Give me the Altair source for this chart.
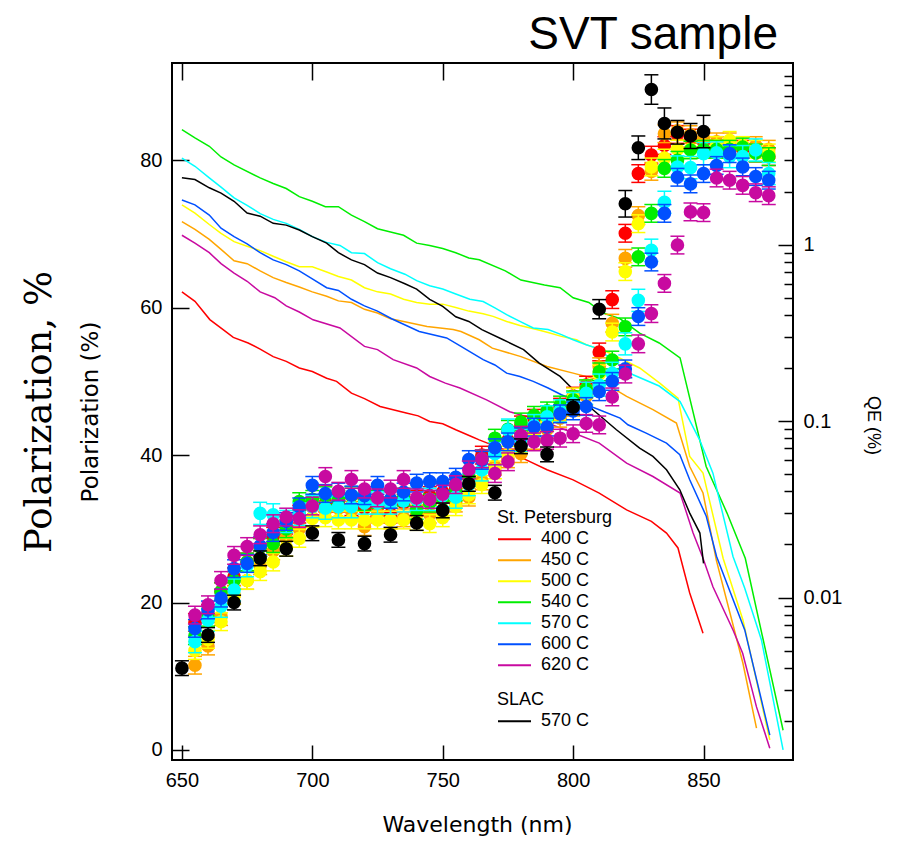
import altair as alt
import pandas as pd

# ---------------- data ----------------
SERIES = ["400 C", "450 C", "500 C", "540 C", "570 C", "600 C", "620 C"]
COLORS = ["#ff0000", "#ffa500", "#ffff00", "#00ee00", "#00ffff", "#0050ff", "#c80aa0"]
SLAC_NAME = "570 C"
SLAC_COLOR = "#000000"

# Polarization (%) measured every 5 nm (St. Petersburg samples)
WL_SPB = [655, 660, 665, 670, 675, 680, 685, 690, 695, 700, 705, 710, 715, 720, 725,
          730, 735, 740, 745, 750, 755, 760, 765, 770, 775, 780, 785, 790, 795, 800,
          805, 810, 815, 820, 825, 830, 835, 840, 845, 850, 855, 860, 865, 870, 875]

POL_400 = [17.3, 18.5, 21.5, 23.5, 25.5, 27.5, 29.0, 30.5, 32.0, 33.0, 33.5, 33.5, 33.0, 32.8, 33.0,
           32.0, 33.5, 34.0, 34.5, 35.0, 35.5, 37.0, 40.0, 41.0, 42.0, 44.1, 45.0, 45.5, 46.5, 48.0,
           49.5, 54.0, 61.1, 70.1, 78.2, 80.7, 82.0, 83.5, 83.0, 82.5, 82.0, 81.5, 81.5, 81.0, 80.5]
POL_450 = [11.5, 14.1, 18.1, 21.0, 23.0, 25.0, 27.0, 28.7, 30.0, 31.5, 32.5, 32.8, 32.5, 30.3, 32.0,
           31.2, 31.5, 32.0, 32.0, 32.5, 33.5, 34.3, 36.5, 38.5, 39.5, 40.2, 42.0, 43.5, 45.0, 46.5,
           48.0, 52.0, 57.9, 66.7, 72.5, 78.5, 83.6, 84.0, 83.5, 83.0, 82.5, 82.5, 82.0, 82.0, 81.5]
POL_500 = [13.5, 15.0, 17.4, 21.0, 23.0, 24.2, 25.5, 27.5, 28.7, 31.4, 31.5, 31.2, 31.2, 31.2, 31.2,
           31.2, 31.2, 31.0, 30.7, 31.5, 33.0, 34.6, 36.0, 38.0, 40.0, 41.5, 43.0, 44.5, 46.0, 47.9,
           49.0, 51.0, 56.7, 64.9, 71.4, 79.1, 80.3, 81.5, 81.5, 81.5, 82.0, 82.7, 82.0, 81.5, 81.0]
POL_540 = [15.5, 18.0, 21.5, 23.0, 25.5, 27.5, 28.0, 30.0, 33.7, 34.0, 34.5, 34.0, 34.5, 33.7, 34.0,
           34.0, 34.3, 32.5, 33.5, 34.0, 35.0, 37.0, 39.5, 42.3, 43.5, 44.5, 45.4, 46.0, 46.8, 47.5,
           49.0, 51.3, 52.9, 57.4, 66.9, 72.8, 78.9, 80.0, 81.4, 81.5, 81.5, 81.5, 81.8, 81.0, 80.5]
POL_570 = [14.7, 17.6, 19.5, 21.7, 25.0, 32.1, 31.9, 31.0, 32.0, 33.0, 32.8, 33.0, 33.0, 33.5, 33.5,
           33.5, 33.8, 34.0, 34.0, 34.5, 34.3, 36.0, 38.0, 40.2, 43.4, 42.0, 44.0, 45.2, 46.0, 47.0,
           48.4, 49.5, 51.1, 55.1, 61.0, 67.8, 74.3, 79.1, 79.0, 80.9, 81.0, 80.5, 80.5, 81.4, 78.2]
POL_600 = [16.5, 19.0, 20.6, 24.6, 25.3, 27.7, 29.5, 31.0, 33.0, 35.9, 34.8, 35.0, 34.6, 34.5, 35.9,
           34.0, 35.0, 36.2, 36.4, 36.4, 37.0, 39.4, 39.3, 41.0, 41.8, 42.5, 43.8, 43.8, 45.6, 46.0,
           46.6, 48.6, 50.0, 51.7, 58.8, 66.2, 72.8, 77.7, 76.8, 78.2, 79.3, 80.9, 79.1, 77.8, 77.3]
POL_620 = [18.3, 19.7, 23.0, 26.4, 27.6, 29.2, 30.7, 31.6, 31.4, 33.1, 37.1, 35.1, 36.7, 35.4, 34.2,
           35.4, 36.7, 34.2, 34.0, 34.7, 36.0, 38.0, 39.5, 37.5, 39.1, 42.7, 41.8, 42.0, 42.3, 42.9,
           44.3, 44.1, 47.9, 51.0, 55.1, 59.2, 63.3, 68.5, 73.0, 72.9, 77.6, 77.3, 76.6, 75.6, 75.2]
POL_ERR = [1.2, 1.2, 1.2, 1.2, 1.5, 1.2, 1.2]   # per St. Petersburg series

# SLAC sample polarization
WL_SLAC = [650, 660, 670, 680, 690, 700, 710, 720, 730, 740, 750, 760, 770, 780, 790, 800,
           810, 820, 825, 830, 835, 840, 845, 850]
POL_SLAC = [11.1, 15.6, 20.0, 26.0, 27.3, 29.4, 28.5, 28.0, 29.2, 30.8, 32.5, 36.1, 34.9, 41.2,
            40.1, 46.5, 59.8, 74.1, 81.7, 89.6, 85.0, 83.8, 83.3, 83.9]
ERR_SLAC = [1.0, 1.0, 1.0, 1.0, 1.0, 1.0, 1.0, 1.0, 1.0, 1.0, 1.0, 1.0, 1.0, 1.0,
            1.0, 1.0, 1.3, 1.8, 1.6, 2.0, 2.1, 1.6, 1.7, 2.2]

# QE (%) curves, right log axis
QE_400_WL = [650, 655, 660.7, 665.8, 669.7, 675.4, 680, 685, 690, 695, 700, 705.5, 709.3, 715, 720,
             726, 736, 740.6, 745, 750, 755, 761, 764, 772, 782, 790, 800, 810, 820.5, 830, 835.8,
             840.2, 844.7, 849.8]
QE_400 = [0.54, 0.477, 0.376, 0.33, 0.298, 0.277, 0.256, 0.232, 0.218, 0.20, 0.191, 0.175, 0.168,
          0.144, 0.134, 0.121, 0.111, 0.107, 0.0995, 0.0966, 0.0893, 0.0818, 0.0783, 0.0703,
          0.0603, 0.053, 0.0464, 0.0391, 0.0314, 0.027, 0.0232, 0.0191, 0.0106, 0.00627]
QE_450_WL = [650, 655, 660.5, 665, 670, 675, 680, 685, 690, 695, 700, 705.5, 710, 715, 720, 725,
             730, 735, 744, 754, 757, 764, 769, 780, 790, 800, 810, 820.5, 830.6, 839.6, 844.7,
             849.8, 854.9, 865.1, 870.3]
QE_450 = [1.35, 1.22, 1.07, 0.94, 0.81, 0.78, 0.71, 0.65, 0.61, 0.575, 0.54, 0.51, 0.48, 0.47,
          0.43, 0.41, 0.38, 0.367, 0.344, 0.33, 0.322, 0.289, 0.259, 0.232, 0.204, 0.187, 0.171,
          0.138, 0.116, 0.0975, 0.0553, 0.0391, 0.0163, 0.00424, 0.00182]
QE_500_WL = [650, 655, 660.5, 665, 670, 675, 680, 685, 690, 695, 700, 705.5, 710, 715, 720, 725,
             730, 735, 740, 745, 750, 755, 760, 765.5, 769.3, 774.5, 779.6, 786, 790.4, 795.5,
             801.3, 805, 812.7, 825.5, 833.2, 840.2, 844.7, 849.8, 857.5, 865.1, 875.4]
QE_500 = [1.68, 1.51, 1.30, 1.16, 1.04, 0.98, 0.925, 0.86, 0.80, 0.75, 0.75, 0.70, 0.66, 0.63,
          0.57, 0.54, 0.525, 0.49, 0.47, 0.46, 0.46, 0.44, 0.42, 0.406, 0.392, 0.367, 0.348,
          0.330, 0.318, 0.302, 0.289, 0.271, 0.248, 0.200, 0.164, 0.135, 0.063, 0.0507, 0.0167,
          0.00746, 0.00156]
QE_540_WL = [650, 655, 660.5, 665, 670, 680, 685, 690, 695, 700, 705, 710, 715, 720, 725, 730,
             735, 740, 745, 750, 755, 760, 764, 774, 780, 789, 795, 800, 806, 811.5, 818, 825.5,
             833, 841, 851, 859, 866, 880.5]
QE_540 = [4.49, 4.03, 3.61, 3.14, 2.83, 2.39, 2.22, 2.08, 1.87, 1.76, 1.64, 1.64, 1.47, 1.35,
          1.23, 1.18, 1.13, 1.02, 0.99, 0.95, 0.90, 0.84, 0.82, 0.71, 0.63, 0.59, 0.57, 0.50,
          0.47, 0.41, 0.38, 0.315, 0.277, 0.228, 0.0553, 0.0301, 0.0167, 0.00177]
QE_570_WL = [650, 655, 660.5, 665, 670, 675, 680, 685, 690, 695, 700, 705.5, 710.6, 715, 720, 725,
             730, 735.5, 740, 745, 750, 755, 760.4, 765.5, 770, 774.5, 779.6, 784.7, 790.4, 795.5,
             800, 805, 809, 813.4, 823, 833, 841, 848.5, 853.6, 861.3, 865.8, 872.2, 880.5]
QE_570 = [3.09, 2.78, 2.39, 2.12, 1.84, 1.67, 1.50, 1.39, 1.32, 1.22, 1.11, 1.03, 0.99, 0.90,
          0.89, 0.79, 0.73, 0.68, 0.625, 0.585, 0.56, 0.525, 0.49, 0.476, 0.438, 0.401, 0.367,
          0.337, 0.330, 0.309, 0.289, 0.271, 0.259, 0.232, 0.183, 0.158, 0.129, 0.0783, 0.0507,
          0.0171, 0.0113, 0.00575, 0.00137]
QE_600_WL = [650, 655, 660.5, 665, 670, 675, 680, 685, 690, 695, 700, 705.5, 710, 715, 720, 725,
             730.4, 741, 751.5, 757, 765.5, 770, 774.5, 779.6, 784.7, 790.4, 795.5, 800, 805, 810,
             818, 821, 828, 835.8, 840.9, 844.7, 851, 855, 865.8, 875.4]
QE_600 = [1.79, 1.68, 1.47, 1.24, 1.11, 1.01, 0.90, 0.82, 0.77, 0.71, 0.64, 0.57, 0.55, 0.49,
          0.45, 0.42, 0.38, 0.322, 0.296, 0.265, 0.223, 0.208, 0.187, 0.179, 0.168, 0.154, 0.141,
          0.132, 0.124, 0.116, 0.104, 0.0953, 0.0855, 0.075, 0.0644, 0.0465, 0.0290, 0.0171,
          0.00655, 0.00166]
QE_620_WL = [650, 655, 660.5, 665, 670, 675, 680, 685.6, 690, 695, 700.3, 710.6, 720, 725, 731,
             740, 745, 751, 756.6, 766.8, 775.7, 788.5, 798.7, 810, 820.5, 830.6, 841, 846, 849.8,
             853.6, 861.3, 865, 870.3, 875.4]
QE_620 = [1.13, 1.02, 0.90, 0.78, 0.69, 0.62, 0.54, 0.50, 0.45, 0.415, 0.375, 0.337, 0.265,
          0.254, 0.223, 0.20, 0.179, 0.164, 0.154, 0.132, 0.113, 0.0995, 0.0873, 0.075, 0.0578,
          0.0485, 0.0391, 0.0232, 0.0167, 0.0115, 0.00655, 0.00483, 0.0024, 0.0014]
QE_SLAC_WL = [650, 655, 660.5, 665, 670, 675, 680, 685, 690, 695, 700, 705.5, 710, 715, 720, 725,
              730, 735.5, 740, 745, 750, 755, 760, 765, 773, 781, 787, 795, 800, 807.6, 816.6,
              825.5, 830.6, 835.8, 840.9, 844.7, 848.6, 850]
QE_SLAC = [2.39, 2.34, 2.10, 1.96, 1.76, 1.51, 1.45, 1.32, 1.29, 1.21, 1.11, 1.02, 0.90, 0.82,
           0.77, 0.69, 0.65, 0.60, 0.56, 0.49, 0.447, 0.39, 0.367, 0.33, 0.29, 0.254, 0.213,
           0.179, 0.151, 0.116, 0.0893, 0.0703, 0.0631, 0.0530, 0.0408, 0.0301, 0.0232, 0.0156]

POL = [POL_400, POL_450, POL_500, POL_540, POL_570, POL_600, POL_620]
QE_WL = [QE_400_WL, QE_450_WL, QE_500_WL, QE_540_WL, QE_570_WL, QE_600_WL, QE_620_WL]
QE_VALS = [QE_400, QE_450, QE_500, QE_540, QE_570, QE_600, QE_620]

# ---------------- tables ----------------
qe_rows = []
for name, wls, vals in zip(SERIES, QE_WL, QE_VALS):
    for w, q in zip(wls, vals):
        qe_rows.append({"series": name, "wl": w, "qe": q})
qe_df = pd.DataFrame(qe_rows)
slac_qe_df = pd.DataFrame({"series": SLAC_NAME, "wl": QE_SLAC_WL, "qe": QE_SLAC})


def pol_frame(wls, vals, errs):
    return pd.DataFrame({"wl": wls, "p": vals,
                         "lo": [v - e for v, e in zip(vals, errs)],
                         "hi": [v + e for v, e in zip(vals, errs)]})


point_sets = []
for name, col, vals, e in zip(SERIES, COLORS, POL, POL_ERR):
    point_sets.append((col, pol_frame(WL_SPB, vals, [e] * len(vals))))
point_sets.append((SLAC_COLOR, pol_frame(WL_SLAC, POL_SLAC, ERR_SLAC)))

# ---------------- scales / axes ----------------
X_SCALE = alt.Scale(domain=[646.2, 884.3], nice=False, zero=False)
P_SCALE = alt.Scale(domain=[-1.36, 93.2], nice=False, zero=False)
QE_SCALE = alt.Scale(type="log", domain=[0.0012, 10.7], nice=False)

MINOR = [m * d for d in (0.001, 0.01, 0.1, 1) for m in (2, 3, 4, 5, 6, 7, 8, 9)]
MINOR = [v for v in MINOR if 0.0012 < v < 10.7]

x_bottom = alt.X("wl:Q", scale=X_SCALE, axis=alt.Axis(
    orient="bottom", values=[650, 700, 750, 800, 850], offset=-15, tickSize=15,
    domain=False, labelPadding=10, title="Wavelength (nm)", titleFont="DejaVu Sans",
    titleFontSize=22, titlePadding=24, titleX=305))
x_top = alt.X("wl:Q", scale=X_SCALE, axis=alt.Axis(
    orient="top", values=[650, 700, 750, 800, 850], offset=-17, tickSize=17,
    domain=False, labels=False, title=None))
x_none = alt.X("wl:Q", scale=X_SCALE, axis=None)

legend_common = dict(orient="none", symbolType="stroke", symbolSize=1089,
                     symbolStrokeWidth=2, labelFontSize=18, titleFontSize=18,
                     labelFont="Liberation Sans", titleFont="Liberation Sans",
                     titleFontWeight="normal", labelColor="black", titleColor="black",
                     clipHeight=20.4, rowPadding=0, titlePadding=2, labelOffset=9,
                     padding=0)

lines_spb = alt.Chart(qe_df).mark_line(strokeWidth=1.5).encode(
    x=x_bottom,
    y=alt.Y("qe:Q", scale=QE_SCALE, axis=alt.Axis(
        orient="right", values=[0.01, 0.1, 1], format=".2~f", offset=-15, tickSize=15,
        domain=False, labelPadding=10, title="QE (%)", titleAngle=90,
        titleFont="Liberation Sans", titleFontSize=18, titlePadding=22, titleY=362)),
    stroke=alt.Stroke("series:N", scale=alt.Scale(domain=SERIES, range=COLORS),
                      legend=alt.Legend(title="St. Petersburg", legendX=325, legendY=446,
                                        **legend_common)),
)

line_slac = alt.Chart(slac_qe_df).mark_line(strokeWidth=1.5).encode(
    x=x_top,
    y=alt.Y("qe:Q", scale=QE_SCALE, axis=alt.Axis(
        orient="right", values=MINOR, offset=-9, tickSize=9, domain=False,
        labels=False, title=None)),
    color=alt.Color("series:N", scale=alt.Scale(domain=[SLAC_NAME], range=[SLAC_COLOR]),
                    legend=alt.Legend(title="SLAC", legendX=325, legendY=628, **legend_common)),
)

layers = [lines_spb, line_slac]
for i, (col, df) in enumerate(point_sets):
    if i == 0:
        y_rule = alt.Y("lo:Q", scale=P_SCALE, axis=alt.Axis(
            orient="left", values=[0, 20, 40, 60, 80], offset=-17, tickSize=17,
            domain=False, labelPadding=10, title="Polarization (%)",
            titleFont="DejaVu Sans", titleFontSize=23, titlePadding=37))
        y_pt = alt.Y("p:Q", scale=P_SCALE, axis=alt.Axis(
            orient="left", ticks=False, labels=False, domain=False,
            title="Polarization, %", titleFont="DejaVu Serif", titleFontSize=37,
            titlePadding=114))
    else:
        y_rule = alt.Y("lo:Q", scale=P_SCALE, axis=None)
        y_pt = alt.Y("p:Q", scale=P_SCALE, axis=None)
    base = alt.Chart(df)
    rule = base.mark_rule(strokeWidth=1.5, color=col).encode(x=x_none, y=y_rule, y2="hi:Q")
    caps = base.transform_fold(["lo", "hi"], as_=["cap", "v"]).mark_tick(
        orient="horizontal", size=14, thickness=1.5, color=col, opacity=1).encode(
        x=x_none, y=alt.Y("v:Q", scale=P_SCALE, axis=None))
    pts = base.mark_circle(size=185, color=col, opacity=1).encode(x=x_none, y=y_pt)
    layers += [rule, caps, pts]

chart = alt.layer(*layers).resolve_scale(y="independent").resolve_axis(
    x="independent", y="independent"
).properties(
    width=621, height=697,
    padding={"left": 164, "top": 55, "right": 99, "bottom": 80},
    autosize=alt.AutoSizeParams(type="none"),
    title=alt.TitleParams("SVT sample", anchor="end", frame="group", fontSize=46,
                          font="Liberation Sans", fontWeight="normal", color="black",
                          offset=3, dx=-15),
).configure_axis(
    grid=False, labelFont="Liberation Sans", labelFontSize=20, labelColor="black",
    tickColor="black", tickWidth=1.5, titleColor="black", titleFontWeight="normal"
).configure_view(stroke="black", strokeWidth=2)

chart.save("out.html", embed_options={"renderer": "svg", "actions": False})
